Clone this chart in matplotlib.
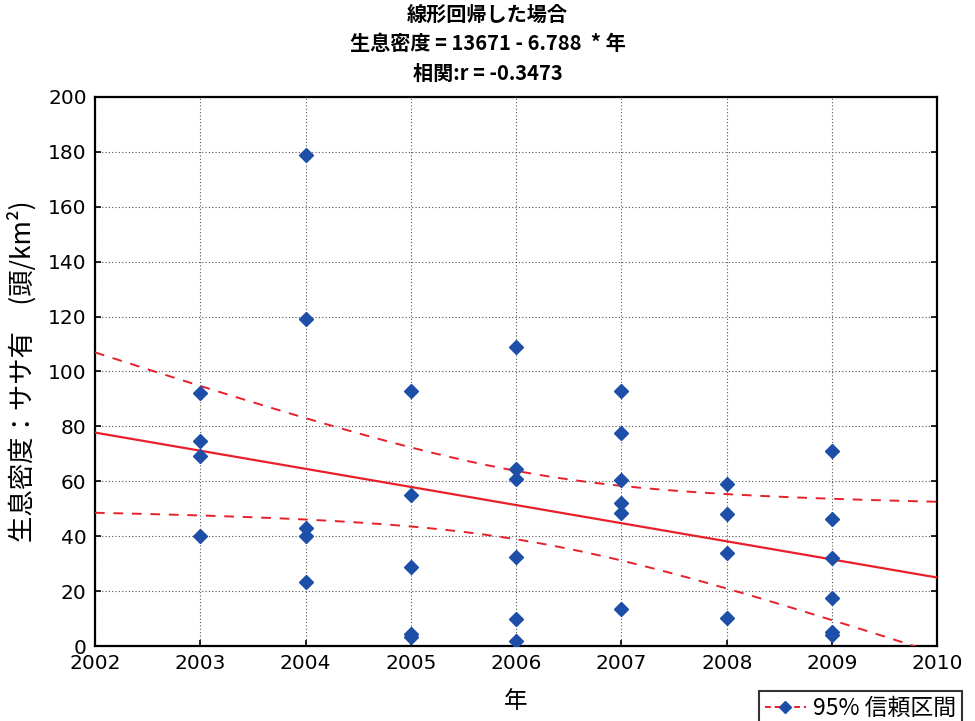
import matplotlib
matplotlib.use('Agg')
import matplotlib.pyplot as plt
from matplotlib.lines import Line2D
import numpy as np

plt.rcParams['font.family'] = ['Noto Sans CJK JP', 'DejaVu Sans']

# 年ごとの生息密度 (ササ有)
years = [2003, 2003, 2003, 2003,
         2004, 2004, 2004, 2004, 2004,
         2005, 2005, 2005, 2005, 2005,
         2006, 2006, 2006, 2006, 2006, 2006,
         2007, 2007, 2007, 2007, 2007, 2007,
         2008, 2008, 2008, 2008,
         2009, 2009, 2009, 2009, 2009, 2009]
density = [92.0, 74.7, 69.3, 40.1,
           178.9, 119.3, 43.1, 40.1, 23.4,
           93.0, 55.0, 28.9, 4.2, 3.2,
           109.0, 64.5, 60.8, 32.4, 9.7, 1.8,
           93.0, 77.7, 60.4, 52.0, 48.3, 13.6,
           59.0, 48.2, 33.8, 10.3,
           71.0, 46.1, 31.9, 17.4, 5.2, 4.0]

x_ticks = [2002, 2003, 2004, 2005, 2006, 2007, 2008, 2009, 2010]
y_ticks = [0, 20, 40, 60, 80, 100, 120, 140, 160, 180, 200]

titulo = '線形回帰した場合\n生息密度 = 13671 - 6.788  * 年\n相関:r = -0.3473'

azul = '#1e4fa8'
rojo = '#e8202a'

# recta de regresion y banda de confianza 95%
x = np.array(years, dtype=float)
y = np.array(density)
n = len(x)
b1, b0 = np.polyfit(x, y, 1)
resid = y - (b0 + b1 * x)
s = np.sqrt((resid ** 2).sum() / (n - 2))
sxx = ((x - x.mean()) ** 2).sum()
t = 2.032  # t(0.975, 34)

xs = np.linspace(2002, 2010, 400)
ys = b0 + b1 * xs
half = t * s * np.sqrt(1 / n + (xs - x.mean()) ** 2 / sxx)

fig = plt.figure(figsize=(9.75, 7.21), dpi=100)
ax = fig.add_axes([0.0974, 0.104, 0.864, 0.7615])

ax.plot(xs, ys, color=rojo, lw=1.6, zorder=3)
ax.plot(xs, ys + half, color=rojo, lw=1.4, ls=(0, (5, 4.5)), zorder=3)
ax.plot(xs, ys - half, color=rojo, lw=1.4, ls=(0, (5, 4.5)), zorder=3)
ax.plot(years, density, 'D', color=azul, ms=7, ls='none', zorder=4)

ax.set_xlim(2002, 2010)
ax.set_ylim(0, 200)
ax.set_xticks(x_ticks)
ax.set_yticks(y_ticks)
ax.tick_params(direction='in', length=4, width=1.2, labelsize=14.5,
               top=False, right=True, pad=6)
for lbl in ax.get_xticklabels() + ax.get_yticklabels():
    lbl.set_family('DejaVu Sans')
ax.grid(True, ls=(0, (1, 2)), color='#555555', lw=0.8)
for sp in ax.spines.values():
    sp.set_linewidth(1.6)
    sp.set_color('black')

ax.set_xlabel('年', fontsize=17, labelpad=12)
ax.set_ylabel('生息密度：ササ有　(頭/km²)', fontsize=19, labelpad=8)

fig.text(0.5, 0.995, titulo, ha='center', va='top', fontsize=14.5,
         fontweight='bold', linespacing=1.5)

h = Line2D([], [], color=rojo, ls=(0, (3, 2)), lw=1.4, marker='D',
           markerfacecolor=azul, markeredgecolor=azul, ms=6.5)
leg = fig.legend([h], ['95% 信頼区間'], loc='lower right',
                 bbox_to_anchor=(0.998, -0.022), fontsize=16.5, frameon=True,
                 fancybox=False, edgecolor='black', handlelength=1.8,
                 borderpad=0.25, handletextpad=0.3)
leg.get_frame().set_linewidth(1.5)

plt.savefig('out.png', dpi=100)
